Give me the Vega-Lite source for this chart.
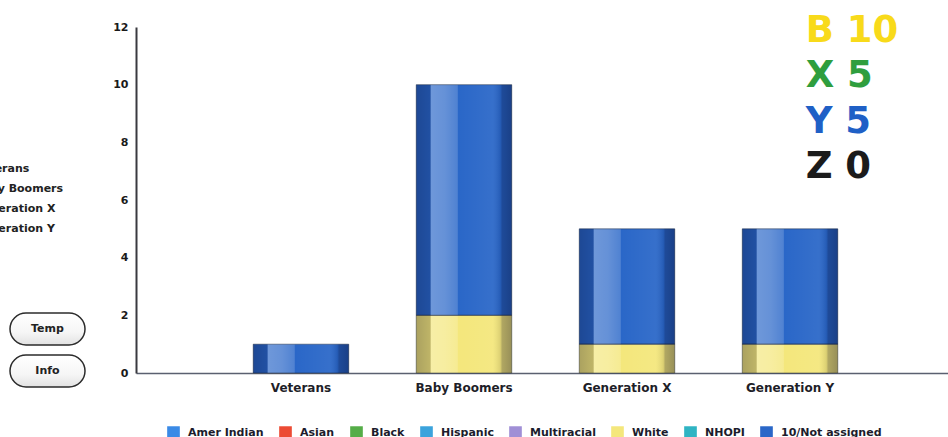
{
  "$schema": "https://vega.github.io/schema/vega-lite/v6.json",
  "width": 812,
  "height": 346,
  "autosize": {"type": "none"},
  "padding": {"left": 136, "top": 27, "right": 0, "bottom": 64},
  "background": "#ffffff",
  "config": {"view": {"stroke": null}, "font": "DejaVu Sans"},
  "datasets": {
    "counts": [
      {"generation": "Veterans", "race": "10/Not assigned", "count": 1},
      {"generation": "Baby Boomers", "race": "White", "count": 2},
      {"generation": "Baby Boomers", "race": "10/Not assigned", "count": 8},
      {"generation": "Generation X", "race": "White", "count": 1},
      {"generation": "Generation X", "race": "10/Not assigned", "count": 4},
      {"generation": "Generation Y", "race": "White", "count": 1},
      {"generation": "Generation Y", "race": "10/Not assigned", "count": 4}
    ],
    "totals": [
      {"code": "B", "total": 10},
      {"code": "X", "total": 5},
      {"code": "Y", "total": 5},
      {"code": "Z", "total": 0}
    ],
    "buttons": [
      {"label": "Temp", "panel": "left"},
      {"label": "Info", "panel": "left"}
    ],
    "generations": [
      {"name": "Veterans", "panel": "left"},
      {"name": "Baby Boomers", "panel": "left"},
      {"name": "Generation X", "panel": "left"},
      {"name": "Generation Y", "panel": "left"}
    ]
  },
  "layer": [
    {
      "data": {"name": "counts"},
      "mark": {"type": "bar"},
      "encoding": {
        "x": {
          "field": "generation", "type": "nominal",
          "scale": {"domain": ["Veterans", "Baby Boomers", "Generation X", "Generation Y"], "range": [0, 819], "paddingInner": 0.414, "paddingOuter": 0.719},
          "axis": {"title": null, "labelAngle": 0, "ticks": false, "tickSize": 0, "labelPadding": 9, "labelFont": "DejaVu Sans", "labelFontSize": 12, "labelFontWeight": "bold", "labelColor": "#1e1e28", "domainColor": "#5a6070", "domainWidth": 1.5, "grid": false}
        },
        "y": {
          "field": "count", "type": "quantitative", "stack": "zero",
          "scale": {"domain": [0, 12], "nice": false},
          "axis": {"title": null, "values": [0, 2, 4, 6, 8, 10, 12], "ticks": false, "tickSize": 0, "labelPadding": 8, "labelFont": "DejaVu Sans", "labelFontSize": 11, "labelFontWeight": "bold", "labelColor": "#1a1a1a", "domainColor": "#3a3a40", "domainWidth": 2, "grid": false}
        },
        "color": {
          "field": "race", "type": "nominal",
          "scale": {
            "domain": ["Amer Indian", "Asian", "Black", "Hispanic", "Multiracial", "White", "NHOPI", "10/Not assigned"],
            "range": ["#3a8ae6", "#ec4b34", "#55ad48", "#3ba3dc", "#a08fd6", "#f4e77c", "#2fb4c3", "#2a67c8"]
          },
          "legend": {"orient": "none", "legendX": 31, "legendY": 399, "direction": "horizontal", "title": null, "symbolType": "square", "symbolSize": 160, "symbolStrokeWidth": 0, "labelFont": "DejaVu Sans", "labelFontSize": 11, "labelFontWeight": "bold", "labelColor": "#1c1c2c", "labelOffset": 8, "columnPadding": 15, "padding": 0, "labelLimit": 300}
        },
        "order": {"field": "race", "sort": "descending"}
      }
    },
    {
      "data": {"name": "counts"},
      "mark": {
        "type": "bar",
        "fill": {
          "gradient": "linear", "x1": 0, "y1": 0, "x2": 1, "y2": 0,
          "stops": [
            {"offset": 0, "color": "rgba(0,0,30,0.30)"},
            {"offset": 0.145, "color": "rgba(0,0,30,0.22)"},
            {"offset": 0.155, "color": "rgba(255,255,255,0.32)"},
            {"offset": 0.30, "color": "rgba(255,255,255,0.28)"},
            {"offset": 0.43, "color": "rgba(255,255,255,0.18)"},
            {"offset": 0.44, "color": "rgba(255,255,255,0)"},
            {"offset": 0.80, "color": "rgba(255,255,255,0.06)"},
            {"offset": 0.88, "color": "rgba(0,0,30,0.10)"},
            {"offset": 0.90, "color": "rgba(0,0,30,0.28)"},
            {"offset": 1, "color": "rgba(0,0,30,0.38)"}
          ]
        },
        "stroke": "#1c2430", "strokeWidth": 1, "strokeOpacity": 0.45
      },
      "encoding": {
        "x": {
          "field": "generation", "type": "nominal",
          "scale": {"domain": ["Veterans", "Baby Boomers", "Generation X", "Generation Y"], "range": [0, 819], "paddingInner": 0.414, "paddingOuter": 0.719},
          "axis": null
        },
        "y": {"field": "count", "type": "quantitative", "stack": "zero", "scale": {"domain": [0, 12], "nice": false}, "axis": null},
        "detail": {"field": "race", "type": "nominal"},
        "order": {"field": "race", "sort": "descending"}
      }
    },
    {
      "data": {"name": "totals"},
      "transform": [{"calculate": "datum.code + ' ' + datum.total", "as": "label"}],
      "mark": {"type": "text", "align": "left", "baseline": "middle", "fontSize": 37, "fontWeight": "bold", "font": "DejaVu Sans", "dx": -47},
      "encoding": {
        "x": {
          "datum": "Generation Y", "type": "nominal",
          "scale": {"domain": ["Veterans", "Baby Boomers", "Generation X", "Generation Y"], "range": [0, 819], "paddingInner": 0.414, "paddingOuter": 0.719},
          "axis": null
        },
        "y": {"field": "code", "type": "nominal", "scale": {"type": "point", "domain": ["B", "X", "Y", "Z"], "range": [4, 140], "padding": 0}, "axis": null},
        "fill": {"field": "code", "type": "nominal", "scale": {"domain": ["B", "X", "Y", "Z"], "range": ["#f8da1a", "#2f9e3e", "#1f60c6", "#1b1b1b"]}, "legend": null},
        "text": {"field": "label", "type": "nominal"}
      }
    },
    {
      "data": {"name": "buttons"},
      "mark": {
        "type": "rect", "cornerRadius": 16,
        "fill": {"gradient": "linear", "x1": 0, "y1": 0, "x2": 0, "y2": 1, "stops": [{"offset": 0, "color": "#ffffff"}, {"offset": 0.6, "color": "#f6f6f6"}, {"offset": 1, "color": "#e2e2e2"}]},
        "stroke": "#2b2b2b", "strokeWidth": 1.5
      },
      "encoding": {
        "x": {"field": "panel", "type": "nominal", "scale": {"type": "band", "domain": ["left"], "range": [-126, -51], "paddingInner": 0, "paddingOuter": 0}, "axis": null},
        "y": {"field": "label", "type": "nominal", "scale": {"type": "band", "domain": ["Temp", "Info"], "range": [286, 360], "paddingInner": 0.238, "paddingOuter": 0}, "axis": null}
      }
    },
    {
      "data": {"name": "buttons"},
      "mark": {"type": "text", "align": "center", "baseline": "middle", "fontSize": 11, "fontWeight": "bold", "font": "DejaVu Sans", "fill": "#222222"},
      "encoding": {
        "x": {"field": "panel", "type": "nominal", "scale": {"type": "band", "domain": ["left"], "range": [-126, -51], "paddingInner": 0, "paddingOuter": 0}, "axis": null},
        "y": {"field": "label", "type": "nominal", "scale": {"type": "band", "domain": ["Temp", "Info"], "range": [286, 360], "paddingInner": 0.238, "paddingOuter": 0}, "axis": null},
        "text": {"field": "label", "type": "nominal"}
      }
    },
    {
      "data": {"name": "generations"},
      "mark": {"type": "text", "align": "left", "baseline": "middle", "fontSize": 11, "fontWeight": "bold", "font": "DejaVu Sans", "fill": "#222222"},
      "encoding": {
        "x": {"field": "panel", "type": "nominal", "scale": {"type": "band", "domain": ["left"], "range": [-172, -152], "paddingInner": 0, "paddingOuter": 0}, "axis": null},
        "y": {"field": "name", "type": "nominal", "scale": {"type": "point", "domain": ["Veterans", "Baby Boomers", "Generation X", "Generation Y"], "range": [142, 202], "padding": 0}, "axis": null},
        "text": {"field": "name", "type": "nominal"}
      }
    }
  ],
  "resolve": {"scale": {"x": "independent", "y": "independent"}}
}
